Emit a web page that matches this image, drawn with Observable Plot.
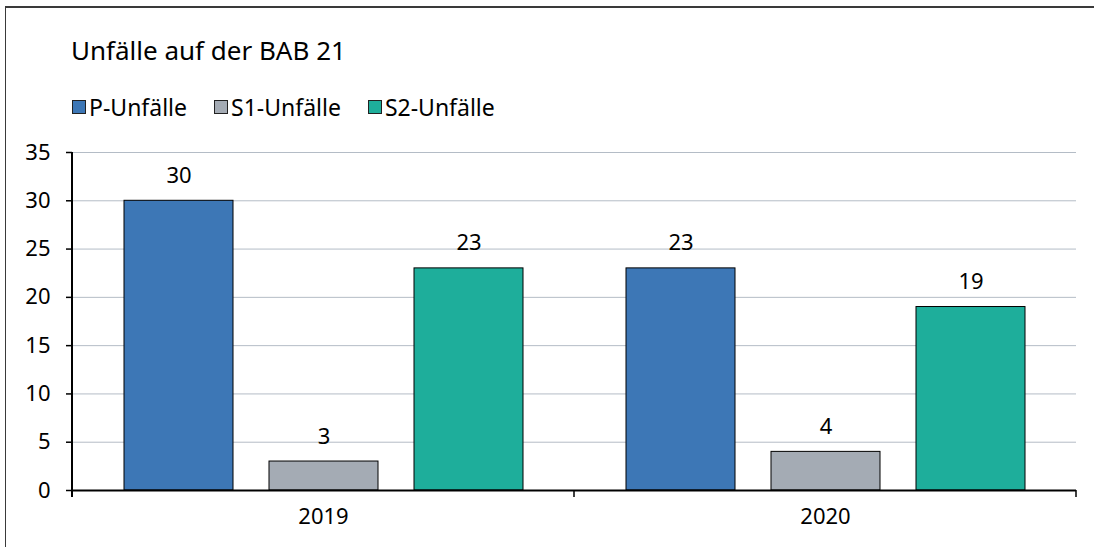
<!DOCTYPE html>
<html>
<head>
<meta charset="utf-8">
<script src="https://cdn.jsdelivr.net/npm/d3@7"></script>
<script src="https://cdn.jsdelivr.net/npm/@observablehq/plot@0.6"></script>
<style>
  html, body { margin: 0; padding: 0; background: #fff; overflow: hidden; }
  #wrap { position: relative; width: 1094px; height: 547px; overflow: hidden; font-family: "Noto Sans", Lato, sans-serif; color: #000; }
  #frame { position: absolute; left: 5px; top: 6px; width: 1200px; height: 600px; border-top: 2px solid #3a3a3a; border-left: 1.5px solid #3a3a3a; }
  #title { position: absolute; left: 71px; top: 34px; font-size: 26px; line-height: 32px; white-space: nowrap; }
  #legend { position: absolute; left: 72px; top: 93px; font-size: 23px; line-height: 28px; white-space: nowrap; display: flex; }
  #legend .item { display: flex; align-items: center; margin-right: 27px; }
  #legend .sw { width: 14px; height: 14px; border: 1px solid #222; margin-right: 3px; box-sizing: border-box; }
  #chart { position: absolute; left: 0; top: 120px; }
</style>
</head>
<body>
<div id="wrap">
  <div id="frame"></div>
  <div id="title"></div>
  <div id="legend"></div>
  <div id="chart"></div>
</div>
<script>
const titleText = "Unfälle auf der BAB 21";
const years = ["2019", "2020"];
const series = ["P-Unfälle", "S1-Unfälle", "S2-Unfälle"];
const pValues = [30, 23];
const s1Values = [3, 4];
const s2Values = [23, 19];
const colors = ["#3d77b6", "#a4abb4", "#1eae9b"];
const yTicks = [0, 5, 10, 15, 20, 25, 30, 35];

const seriesValues = [pValues, s1Values, s2Values];
const data = years.flatMap((year, i) =>
  series.map((s, j) => ({ year, series: s, value: seriesValues[j][i] }))
);

document.getElementById("title").textContent = titleText;
const legend = document.getElementById("legend");
series.forEach((s, j) => {
  const item = document.createElement("div");
  item.className = "item";
  const sw = document.createElement("span");
  sw.className = "sw";
  sw.style.background = colors[j];
  const t = document.createElement("span");
  t.textContent = s;
  item.appendChild(sw);
  item.appendChild(t);
  legend.appendChild(item);
});

const plot = Plot.plot({
  width: 1094,
  height: 427,
  marginLeft: 72,
  marginRight: 18,
  marginTop: 32,
  marginBottom: 57,
  style: { fontFamily: "'Noto Sans', Lato, sans-serif", fontSize: "22px", color: "#000", background: "transparent" },
  fx: { domain: years, padding: 0, label: null },
  x: { domain: series, paddingInner: 0.25, paddingOuter: 0.35, axis: null },
  y: { domain: [0, 35], label: null },
  color: { domain: series, range: colors },
  marks: [
    Plot.gridY(yTicks.filter(d => d > 0), { stroke: "#b4bcc6", strokeOpacity: 1, strokeWidth: 1 }),
    Plot.barY(data, { fx: "year", x: "series", y: "value", fill: "series", stroke: "#000", strokeWidth: 1 }),
    Plot.text(data, { fx: "year", x: "series", y: "value", text: d => String(d.value), dy: -25, fontSize: 22, fill: "#000" }),
    Plot.ruleY([0], { stroke: "#000", strokeWidth: 2 }),
    Plot.axisY(yTicks, { tickSize: 6, tickPadding: 16, fontSize: 22, label: null, strokeWidth: 1.5 }),
    Plot.axisFx({ anchor: "bottom", tickSize: 0, tickPadding: 18, fontSize: 22, label: null })
  ]
});
document.getElementById("chart").appendChild(plot);

// y-axis line and category boundary ticks, positioned via the plot's own scales
const fx = plot.scale("fx");
const ys = plot.scale("y");
const svg = d3.select(plot);
const y0 = ys.apply(0);
const y35 = ys.apply(35);
const left = fx.apply(years[0]);
const bounds = years.map(y => fx.apply(y)).concat([fx.apply(years[years.length - 1]) + fx.bandwidth]);
const g = svg.append("g").attr("stroke", "#000");
g.append("line").attr("x1", left).attr("x2", left).attr("y1", y35).attr("y2", y0 + 7).attr("stroke-width", 2);
bounds.forEach(b => {
  g.append("line").attr("x1", b).attr("x2", b).attr("y1", y0).attr("y2", y0 + 7).attr("stroke-width", 1.5);
});
</script>
</body>
</html>
